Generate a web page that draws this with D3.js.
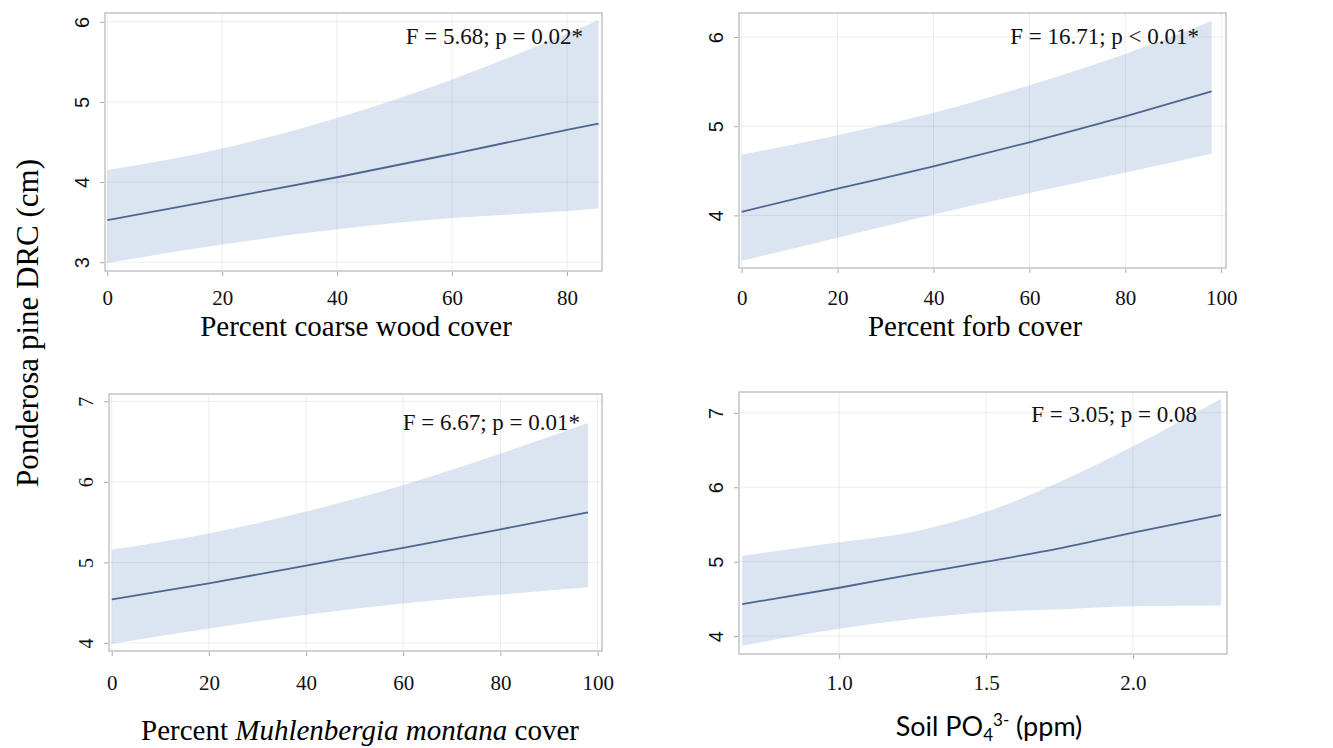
<!DOCTYPE html>
<html>
<head>
<meta charset="utf-8">
<script src="https://cdn.jsdelivr.net/npm/d3@7"></script>
<style>
  body { margin: 0; background: #fff; }
</style>
</head>
<body>
<svg id="chart"></svg>
<script>
// ---- data ----
// panel 1: coarse wood
const woodX = [0, 20, 40, 60, 80, 85.5];
const woodFit = [3.525, 3.79, 4.06, 4.35, 4.65, 4.73];
const woodUpper = [4.15, 4.42, 4.80, 5.28, 5.85, 6.02];
const woodLower = [2.99, 3.22, 3.41, 3.55, 3.64, 3.67];
const woodXTicks = [0, 20, 40, 60, 80];
const woodYTicks = [3, 4, 5, 6];

// panel 2: forb
const forbX = [0, 20, 40, 60, 80, 98];
const forbFit = [4.04, 4.30, 4.55, 4.82, 5.11, 5.39];
const forbUpper = [4.68, 4.90, 5.15, 5.46, 5.81, 6.18];
const forbLower = [3.49, 3.75, 4.01, 4.25, 4.48, 4.69];
const forbXTicks = [0, 20, 40, 60, 80, 100];
const forbYTicks = [4, 5, 6];

// panel 3: Muhlenbergia montana
const muhlX = [0, 20, 40, 60, 80, 98];
const muhlFit = [4.54, 4.74, 4.96, 5.18, 5.41, 5.62];
const muhlUpper = [5.16, 5.36, 5.63, 5.96, 6.35, 6.73];
const muhlLower = [3.99, 4.18, 4.35, 4.49, 4.60, 4.69];
const muhlXTicks = [0, 20, 40, 60, 80, 100];
const muhlYTicks = [4, 5, 6, 7];

// panel 4: soil phosphate
const po4X = [0.67, 1.0, 1.25, 1.5, 1.75, 2.0, 2.3];
const po4Fit = [4.43, 4.65, 4.83, 5.00, 5.18, 5.39, 5.63];
const po4Upper = [5.08, 5.26, 5.40, 5.67, 6.07, 6.55, 7.19];
const po4Lower = [3.87, 4.10, 4.23, 4.32, 4.36, 4.40, 4.41];
const po4XTicks = [1.0, 1.5, 2.0];
const po4YTicks = [4, 5, 6, 7];

const statLabels = ["F = 5.68; p = 0.02*", "F = 16.71; p < 0.01*", "F = 6.67; p = 0.01*", "F = 3.05; p = 0.08"];
const yTitle = "Ponderosa pine DRC (cm)";

const width = 1333;
const height = 748;
const serif = "'Liberation Serif', 'Times New Roman', serif";
const sans = "'Liberation Sans', Arial, sans-serif";

const bandColor = "#dbe5f1";
const lineColor = "#4f6590";
const frameColor = "#c4c4c4";
const gridColor = "rgba(0,0,0,0.07)";

// layout of each panel (frame box in px), plus axis domains
const panels = [
  { x: woodX, fit: woodFit, up: woodUpper, lo: woodLower, xTicks: woodXTicks, yTicks: woodYTicks,
    box: [105, 13, 602, 271], xDom: [-0.4, 86.1], yDom: [2.89, 6.11],
    xFmt: d3.format("d"), yFont: sans, tickBase: 305, titleBase: 336, stat: statLabels[0], statPos: [583, 44] },
  { x: forbX, fit: forbFit, up: forbUpper, lo: forbLower, xTicks: forbXTicks, yTicks: forbYTicks,
    box: [739, 13, 1226, 268], xDom: [-0.56, 101.0], yDom: [3.41, 6.27],
    xFmt: d3.format("d"), yFont: sans, tickBase: 305, titleBase: 336, stat: statLabels[1], statPos: [1199, 44] },
  { x: muhlX, fit: muhlFit, up: muhlUpper, lo: muhlLower, xTicks: muhlXTicks, yTicks: muhlYTicks,
    box: [109, 394, 602, 651], xDom: [-0.56, 100.9], yDom: [3.90, 7.09],
    xFmt: d3.format("d"), yFont: serif, tickBase: 690, titleBase: 740, stat: statLabels[2], statPos: [580, 430] },
  { x: po4X, fit: po4Fit, up: po4Upper, lo: po4Lower, xTicks: po4XTicks, yTicks: po4YTicks,
    box: [739, 392, 1227, 654], xDom: [0.659, 2.32], yDom: [3.76, 7.28],
    xFmt: d3.format(".1f"), yFont: sans, tickBase: 690, titleBase: 736, stat: statLabels[3], statPos: [1197, 422] }
];

const svg = d3.select("#chart")
  .attr("width", width)
  .attr("height", height)
  .attr("viewBox", [0, 0, width, height]);

svg.append("rect")
  .attr("width", width)
  .attr("height", height)
  .attr("fill", "#fff");

panels.forEach((p, k) => {
  const [x0, y0, x1, y1] = p.box;
  const xScale = d3.scaleLinear().domain(p.xDom).range([x0, x1]);
  const yScale = d3.scaleLinear().domain(p.yDom).range([y1, y0]);
  const I = d3.range(p.x.length);

  const g = svg.append("g");

  // confidence band
  const area = d3.area()
    .x(i => xScale(p.x[i]))
    .y0(i => yScale(p.lo[i]))
    .y1(i => yScale(p.up[i]))
    .curve(d3.curveMonotoneX);
  g.append("path")
    .attr("d", area(I))
    .attr("fill", bandColor);

  // grid lines
  g.append("g")
    .selectAll("line")
    .data(p.yTicks)
    .join("line")
      .attr("x1", x0).attr("x2", x1)
      .attr("y1", d => yScale(d)).attr("y2", d => yScale(d))
      .attr("stroke", gridColor);
  g.append("g")
    .selectAll("line")
    .data(p.xTicks)
    .join("line")
      .attr("y1", y0).attr("y2", y1)
      .attr("x1", d => xScale(d)).attr("x2", d => xScale(d))
      .attr("stroke", gridColor);

  // fitted line
  const line = d3.line()
    .x(i => xScale(p.x[i]))
    .y(i => yScale(p.fit[i]))
    .curve(d3.curveMonotoneX);
  g.append("path")
    .attr("d", line(I))
    .attr("fill", "none")
    .attr("stroke", lineColor)
    .attr("stroke-width", 1.8);

  // frame
  g.append("rect")
    .attr("x", x0).attr("y", y0)
    .attr("width", x1 - x0).attr("height", y1 - y0)
    .attr("fill", "none")
    .attr("stroke", frameColor)
    .attr("stroke-width", 1.5);

  // x axis
  const xAxis = d3.axisBottom(xScale).tickValues(p.xTicks).tickFormat(p.xFmt).tickSize(4).tickPadding(0);
  g.append("g")
    .attr("transform", `translate(0,${y1 + 1})`)
    .call(xAxis)
    .call(a => a.select(".domain").remove())
    .call(a => a.selectAll(".tick line").attr("stroke", "#aaa"))
    .call(a => a.selectAll(".tick text")
      .attr("y", p.tickBase - y1 - 1)
      .attr("dy", null)
      .attr("fill", "#111")
      .style("font-family", serif)
      .style("font-size", "21px"));

  // y axis, labels turned sideways like the original
  const yAxis = d3.axisLeft(yScale).tickValues(p.yTicks).tickFormat(d3.format("d")).tickSize(4);
  g.append("g")
    .attr("transform", `translate(${x0 - 1},0)`)
    .call(yAxis)
    .call(a => a.select(".domain").remove())
    .call(a => a.selectAll(".tick line").attr("stroke", "#aaa"))
    .call(a => a.selectAll(".tick text")
      .attr("x", null).attr("dy", null)
      .attr("text-anchor", "middle")
      .attr("transform", "translate(-15,0) rotate(-90)")
      .attr("fill", "#111")
      .style("font-family", p.yFont)
      .style("font-size", "20px"));

  // statistics label
  g.append("text")
    .attr("x", p.statPos[0])
    .attr("y", p.statPos[1])
    .attr("text-anchor", "end")
    .style("font-family", serif)
    .style("font-size", "23px")
    .attr("fill", "#111")
    .text(p.stat);
});

// x axis titles
svg.append("text")
  .attr("x", 356).attr("y", panels[0].titleBase)
  .attr("text-anchor", "middle")
  .style("font-family", serif).style("font-size", "29px")
  .text("Percent coarse wood cover");

svg.append("text")
  .attr("x", 975).attr("y", panels[1].titleBase)
  .attr("text-anchor", "middle")
  .style("font-family", serif).style("font-size", "29px")
  .text("Percent forb cover");

const t3 = svg.append("text")
  .attr("x", 360).attr("y", panels[2].titleBase)
  .attr("text-anchor", "middle")
  .style("font-family", serif).style("font-size", "29px");
t3.append("tspan").text("Percent ");
t3.append("tspan").style("font-style", "italic").text("Muhlenbergia montana");
t3.append("tspan").text(" cover");

const t4 = svg.append("text")
  .attr("x", 989).attr("y", panels[3].titleBase)
  .attr("text-anchor", "middle")
  .style("font-family", "Lato, 'Open Sans', sans-serif").style("font-size", "27px");
t4.append("tspan").text("Soil PO");
t4.append("tspan").attr("dy", 5).style("font-size", "17px").text("4");
t4.append("tspan").attr("dy", -15).style("font-size", "17px").text("3-");
t4.append("tspan").attr("dy", 10).text(" (ppm)");

// shared y title
svg.append("text")
  .attr("transform", "translate(38,323) rotate(-90)")
  .attr("text-anchor", "middle")
  .style("font-family", serif).style("font-size", "31px")
  .text(yTitle);
</script>
</body>
</html>
